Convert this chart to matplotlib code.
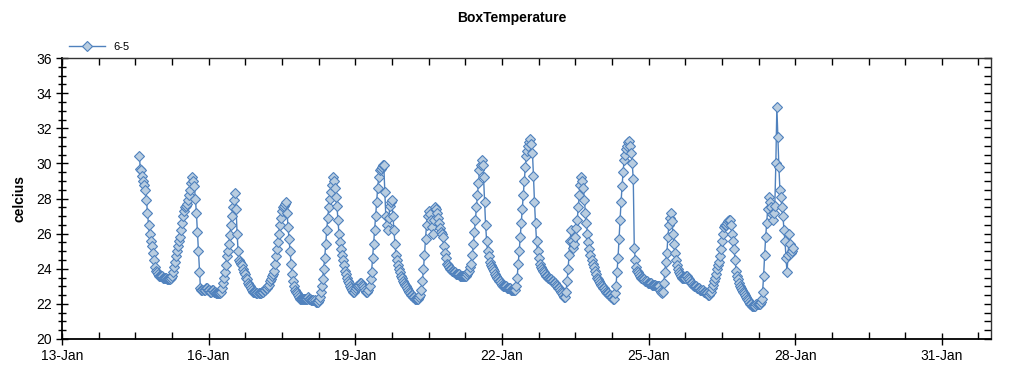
import numpy as np
import pandas as pd
import matplotlib
matplotlib.use("Agg")
import matplotlib.pyplot as plt
import matplotlib.dates as mdates
from matplotlib.ticker import FixedLocator, MultipleLocator, NullLocator

plt.rcParams['font.family'] = ['Liberation Sans', 'DejaVu Sans']

# half-hourly readings, sensor "6-5", starting 14-Jan 14:00
start = "2012-01-14 14:00"
temps = [
    30.4, 29.7, 29.6, 29.3, 29.0, 28.8, 28.5, 27.9, 27.2, 26.5, 26.0, 25.6,
    25.3, 24.9, 24.5, 24.1, 23.9, 23.8, 23.7, 23.6, 23.6, 23.6, 23.6, 23.5,
    23.5, 23.5, 23.5, 23.4, 23.4, 23.4, 23.4, 23.5, 23.6, 23.8, 24.1, 24.4,
    24.7, 25.0, 25.3, 25.6, 25.8, 26.2, 26.6, 27.0, 27.3, 27.5, 27.6, 27.7,
    27.9, 28.2, 28.5, 28.9, 29.2, 29.0, 28.7, 28.0, 27.2, 26.1, 25.0, 23.8,
    22.9, 22.8, 22.8, 22.8, 22.8, 22.9, 22.9, 22.8, 22.8, 22.7, 22.7, 22.8,
    22.8, 22.7, 22.7, 22.6, 22.6, 22.6, 22.6, 22.6, 22.7, 22.9, 23.2, 23.5,
    23.8, 24.2, 24.7, 25.0, 25.4, 25.9, 26.5, 27.0, 27.5, 27.9, 28.3, 27.4,
    26.0, 25.0, 24.5, 24.4, 24.3, 24.2, 24.0, 23.8, 23.7, 23.5, 23.4, 23.2,
    23.1, 23.0, 22.9, 22.8, 22.7, 22.7, 22.7, 22.6, 22.6, 22.6, 22.6, 22.6,
    22.7, 22.7, 22.8, 22.8, 22.9, 22.9, 23.0, 23.1, 23.3, 23.4, 23.6, 23.7,
    23.9, 24.3, 24.7, 25.1, 25.5, 26.0, 26.5, 26.9, 27.3, 27.5, 27.6, 27.7,
    27.8, 27.2, 26.4, 25.7, 25.0, 24.3, 23.7, 23.3, 23.0, 22.8, 22.7, 22.6,
    22.5, 22.4, 22.3, 22.3, 22.3, 22.3, 22.3, 22.3, 22.3, 22.3, 22.4, 22.3,
    22.3, 22.2, 22.2, 22.2, 22.2, 22.1, 22.1, 22.1, 22.2, 22.4, 22.7, 23.0,
    23.4, 24.0, 24.6, 25.4, 26.2, 26.9, 27.5, 28.0, 28.4, 28.8, 29.2, 29.0,
    28.6, 28.1, 27.6, 26.8, 26.0, 25.5, 25.1, 24.8, 24.5, 24.2, 23.9, 23.7,
    23.5, 23.3, 23.2, 23.0, 22.9, 22.8, 22.7, 22.7, 22.8, 22.9, 23.0, 23.0,
    23.1, 23.2, 23.2, 23.1, 23.0, 22.9, 22.8, 22.7, 22.7, 22.8, 23.0, 23.4,
    23.8, 24.6, 25.4, 26.2, 27.0, 27.8, 28.6, 29.2, 29.6, 29.7, 29.8, 29.9,
    29.9, 28.4, 27.0, 26.5, 26.2, 26.9, 27.6, 27.8, 27.9, 27.0, 26.2, 25.4,
    24.8, 24.5, 24.2, 24.0, 23.8, 23.6, 23.5, 23.3, 23.2, 23.1, 23.0, 22.9,
    22.8, 22.7, 22.6, 22.5, 22.5, 22.4, 22.4, 22.3, 22.3, 22.3, 22.3, 22.4,
    22.5, 22.8, 23.3, 24.0, 24.8, 25.7, 26.5, 27.0, 27.3, 27.1, 26.8, 26.4,
    26.0, 26.8, 27.5, 27.4, 27.2, 26.9, 26.6, 26.3, 26.1, 26.0, 25.8, 25.3,
    24.9, 24.6, 24.3, 24.2, 24.1, 24.0, 24.0, 23.9, 23.9, 23.8, 23.8, 23.7,
    23.7, 23.7, 23.7, 23.6, 23.6, 23.6, 23.6, 23.6, 23.6, 23.6, 23.7, 23.8,
    23.9, 24.1, 24.3, 24.8, 25.4, 26.1, 26.8, 27.5, 28.2, 28.9, 29.6, 29.9,
    30.2, 29.9, 29.2, 27.8, 26.5, 25.6, 25.0, 24.7, 24.4, 24.2, 24.1, 24.0,
    23.9, 23.7, 23.6, 23.5, 23.4, 23.3, 23.3, 23.2, 23.1, 23.0, 23.0, 23.0,
    23.0, 22.9, 22.9, 22.9, 22.9, 22.8, 22.8, 22.8, 22.8, 22.8, 23.0, 23.5,
    24.3, 25.0, 25.8, 26.6, 27.4, 28.2, 29.0, 29.8, 30.4, 30.7, 31.0, 31.2,
    31.4, 31.1, 30.6, 29.3, 27.8, 26.6, 25.6, 25.0, 24.6, 24.3, 24.1, 24.0,
    23.9, 23.8, 23.7, 23.6, 23.6, 23.5, 23.5, 23.4, 23.4, 23.3, 23.3, 23.2,
    23.2, 23.1, 23.0, 22.9, 22.9, 22.8, 22.7, 22.6, 22.5, 22.4, 22.4, 22.7,
    23.3, 24.0, 24.8, 25.6, 26.2, 25.6, 25.2, 25.4, 25.8, 26.3, 26.8, 27.5,
    28.2, 28.8, 29.2, 29.0, 28.6, 27.9, 27.2, 26.6, 26.0, 25.5, 25.1, 24.8,
    24.5, 24.3, 24.1, 23.9, 23.7, 23.5, 23.4, 23.3, 23.2, 23.1, 23.0, 22.9,
    22.9, 22.8, 22.7, 22.6, 22.6, 22.5, 22.5, 22.4, 22.4, 22.3, 22.3, 22.6,
    23.0, 23.8, 24.6, 25.7, 26.8, 27.8, 28.7, 29.5, 30.2, 30.5, 30.8, 31.0,
    31.2, 31.3, 31.0, 30.6, 30.0, 29.1, 25.2, 24.5, 24.1, 23.9, 23.8, 23.7,
    23.6, 23.5, 23.5, 23.4, 23.4, 23.3, 23.3, 23.2, 23.2, 23.2, 23.2, 23.1,
    23.1, 23.1, 23.1, 23.0, 23.0, 23.0, 23.0, 22.8, 22.7, 22.6, 22.7, 23.2,
    23.8, 24.4, 24.9, 25.8, 26.5, 26.9, 27.2, 26.7, 26.0, 25.4, 24.9, 24.5,
    24.2, 24.0, 23.8, 23.7, 23.6, 23.5, 23.5, 23.5, 23.5, 23.6, 23.6, 23.5,
    23.4, 23.3, 23.2, 23.2, 23.1, 23.0, 23.0, 23.0, 22.9, 22.9, 22.9, 22.8,
    22.8, 22.8, 22.7, 22.7, 22.6, 22.6, 22.5, 22.5, 22.6, 22.7, 22.9, 23.1,
    23.3, 23.5, 23.7, 24.0, 24.2, 24.4, 24.7, 25.1, 25.6, 26.0, 26.4, 26.5,
    26.5, 26.6, 26.7, 26.8, 26.8, 26.5, 26.0, 25.6, 25.1, 24.5, 23.9, 23.6,
    23.4, 23.2, 23.0, 22.9, 22.8, 22.7, 22.6, 22.5, 22.4, 22.3, 22.2, 22.1,
    22.0, 22.0, 21.9, 21.9, 21.9, 21.9, 22.0, 22.0, 22.0, 22.0, 22.1, 22.3,
    22.7, 23.6, 24.8, 25.8, 26.6, 27.4, 28.1, 27.8, 27.5, 27.1, 26.8, 27.2,
    27.6, 30.0, 33.2, 31.5, 29.8, 28.5, 28.1, 27.5, 27.0, 26.2, 25.6, 24.6,
    23.8, 24.8, 26.0, 25.4, 24.9, 25.0, 25.2,
]
times = pd.date_range(start, periods=len(temps), freq="30min")

major_days = pd.date_range("2012-01-13", "2012-01-31", freq="3D")
minor_days = pd.date_range("2012-01-13", "2012-02-01", freq="18h")

line_col = "#4f81bd"
face_col = "#b9cde0"

fig = plt.figure(figsize=(10.24, 3.75), dpi=100)
ax = fig.add_axes([0.0605, 0.096, 0.907, 0.749])

ax.plot(times, temps, color=line_col, lw=1, marker="D", markersize=5.5,
        markerfacecolor=face_col, markeredgecolor=line_col, markeredgewidth=0.8,
        label="6-5")

ax.set_xlim(pd.Timestamp("2012-01-13"), pd.Timestamp("2012-02-01"))
ax.set_ylim(20, 36)

ax.xaxis.set_major_locator(FixedLocator(mdates.date2num(major_days)))
ax.xaxis.set_minor_locator(FixedLocator(mdates.date2num(minor_days)))
ax.xaxis.set_major_formatter(mdates.DateFormatter("%d-%b"))
ax.yaxis.set_major_locator(MultipleLocator(2))
ax.yaxis.set_minor_locator(MultipleLocator(0.5))

ax.tick_params(axis="both", which="major", direction="inout", length=9,
               width=1, labelsize=10, pad=3)
ax.tick_params(axis="x", which="minor", direction="in", length=5, width=1)
ax.tick_params(axis="y", which="minor", direction="inout", length=6, width=1)

for s in ["left", "bottom"]:
    ax.spines[s].set_linewidth(1.3)
for s in ["top", "right"]:
    ax.spines[s].set_linewidth(1)
    ax.spines[s].set_color("#333333")

# tick marks on the top and right edges, pointing inward
top = ax.secondary_xaxis("top")
top.xaxis.set_major_locator(FixedLocator(mdates.date2num(minor_days)))
top.xaxis.set_minor_locator(NullLocator())
top.tick_params(direction="in", length=5, width=1, labeltop=False)
top.spines["top"].set_visible(False)
right = ax.secondary_yaxis("right")
right.yaxis.set_major_locator(MultipleLocator(0.5))
right.yaxis.set_minor_locator(NullLocator())
right.tick_params(direction="in", length=5, width=1, labelright=False)
right.spines["right"].set_visible(False)

ax.set_ylabel("celcius", fontsize=10, fontweight="bold", labelpad=7)
fig.suptitle("BoxTemperature", fontsize=10, fontweight="bold", y=0.97)

fig.legend(loc="upper left", bbox_to_anchor=(0.058, 0.915), frameon=False,
           fontsize=8, handlelength=3.2, handletextpad=0.8)

fig.savefig("out.png", dpi=100)
